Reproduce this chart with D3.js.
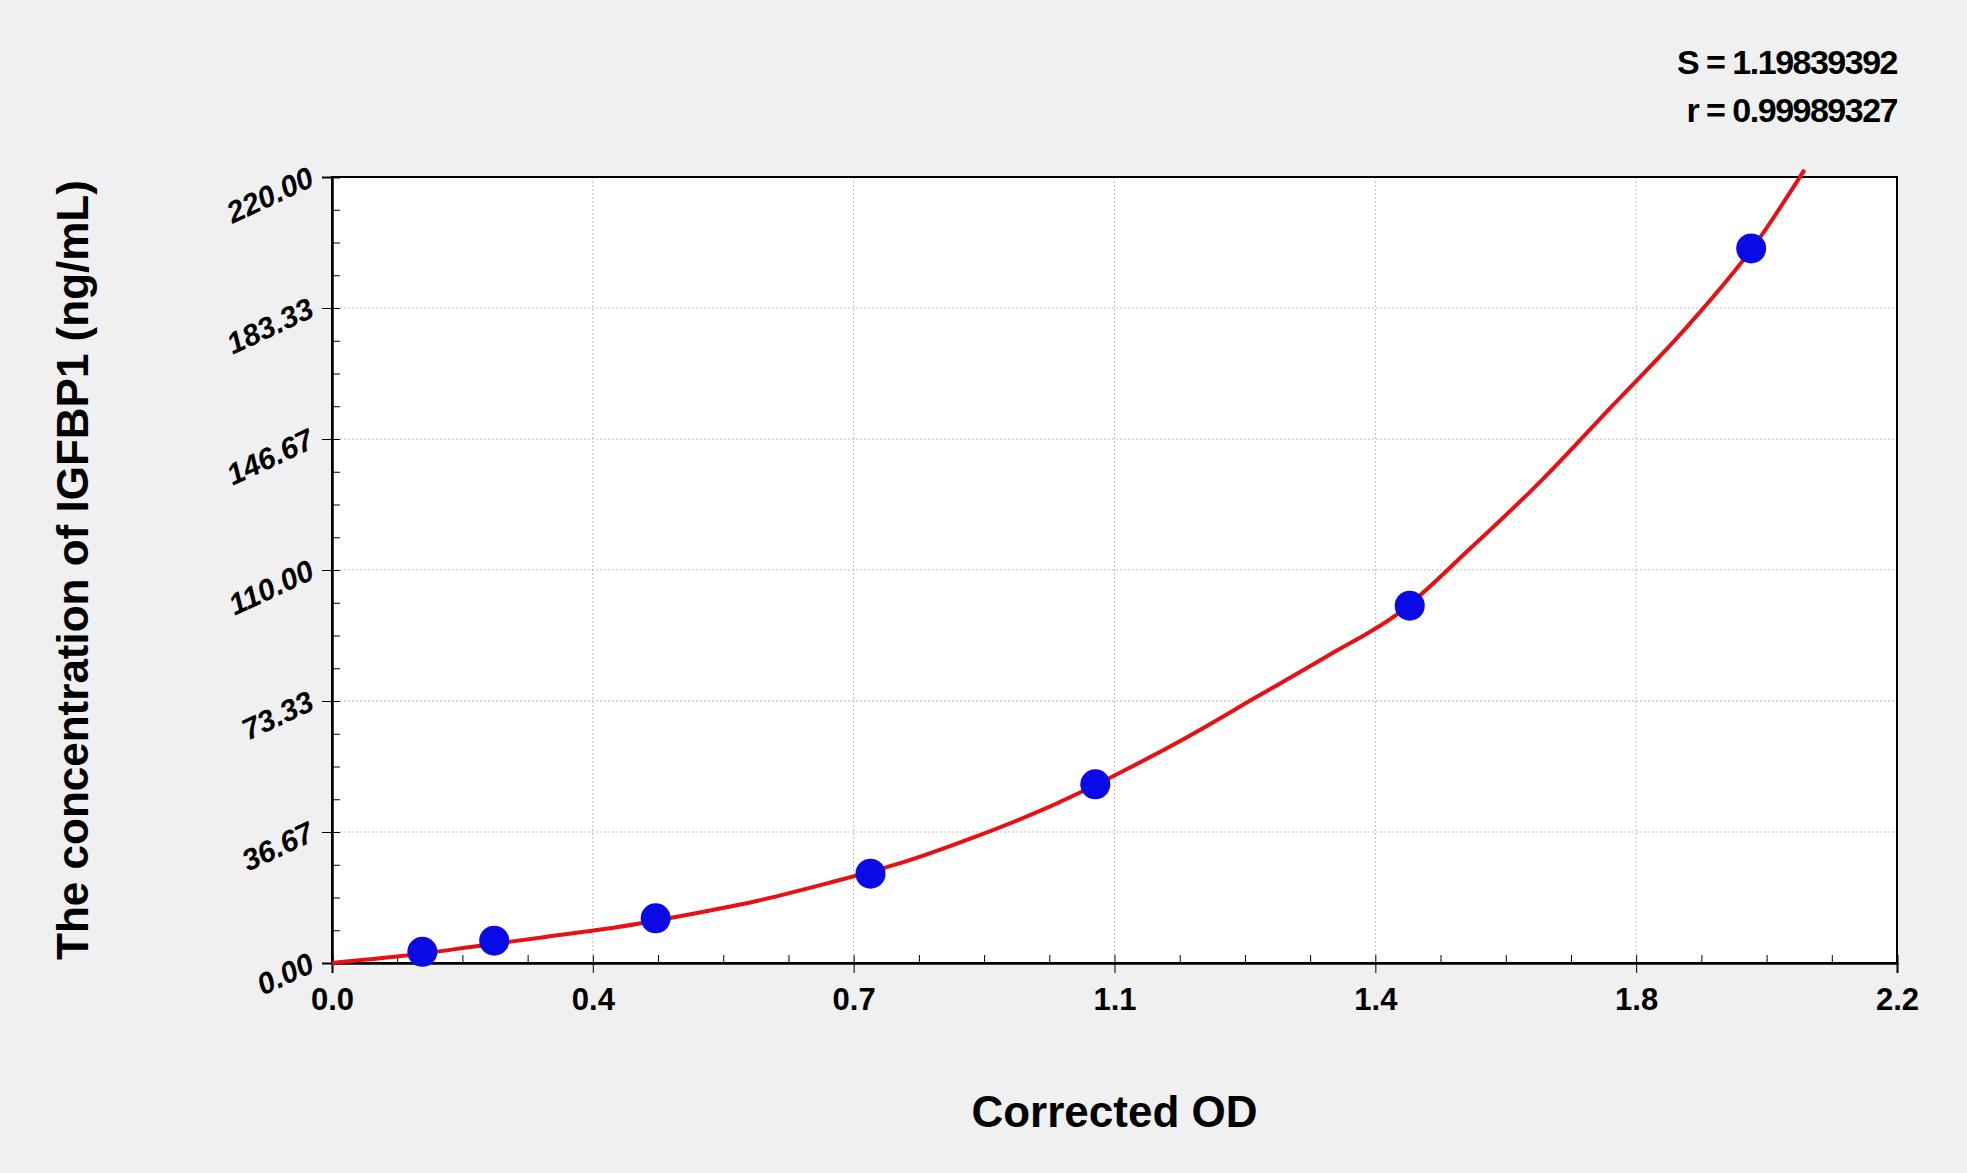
<!DOCTYPE html>
<html><head><meta charset="utf-8">
<script src="https://cdn.jsdelivr.net/npm/d3@7"></script>
<style>body{margin:0;background:#f0f0f0}svg{display:block;font-family:"Liberation Sans",Arial,sans-serif}</style>
</head><body><svg width="1967" height="1173"></svg>
<script>
// standards
var odValues = [0.127, 0.228, 0.455, 0.757, 1.073, 1.515, 1.995]
var concValues = [3.12, 6.25, 12.5, 25, 50, 100, 200]
// fitted curve as drawn
var curveX = [0, 0.1, 0.2, 0.3, 0.4, 0.5, 0.6, 0.7, 0.8, 0.9, 1.0, 1.1, 1.2, 1.3, 1.4, 1.5, 1.6, 1.7, 1.8, 1.9, 2.0, 2.07]
var curveY = [0, 2, 4.6, 7.3, 10, 13.5, 17.5, 22.5, 28, 35, 43, 52.5, 63, 74.5, 86, 98, 116, 135, 156, 177, 201, 222]
var xTickLabels = ["0.0", "0.4", "0.7", "1.1", "1.4", "1.8", "2.2"]
var yTickLabels = ["0.00", "36.67", "73.33", "110.00", "146.67", "183.33", "220.00"]
var stats = ["S = 1.19839392", "r = 0.99989327"]

var pLeft = 332, pRight = 1897, pTop = 177, pBottom = 963
var svg = d3.select("svg")
var x = d3.scaleLinear().domain([0, 2.2]).range([pLeft, pRight])
var y = d3.scaleLinear().domain([0, 220]).range([pBottom, pTop])
var xMajor = d3.range(7).map(i => i * 2.2 / 6)
var yMajor = d3.range(7).map(i => i * 220 / 6)
var xMinor = d3.range(25).map(i => i * 2.2 / 24)
var yMinor = d3.range(25).map(i => i * 220 / 24)

svg.append("rect").attr("x", pLeft).attr("y", pTop).attr("width", pRight - pLeft).attr("height", pBottom - pTop).attr("fill", "#fff")

svg.append("g").selectAll("line").data(xMajor.slice(1, -1)).enter().append("line")
  .attr("x1", d => x(d)).attr("x2", d => x(d)).attr("y1", pTop).attr("y2", pBottom)
  .attr("stroke", "#bbb").attr("stroke-dasharray", "2,2")
svg.append("g").selectAll("line").data(yMajor.slice(1, -1)).enter().append("line")
  .attr("y1", d => y(d)).attr("y2", d => y(d)).attr("x1", pLeft).attr("x2", pRight)
  .attr("stroke", "#bbb").attr("stroke-dasharray", "2,2")

svg.append("g").attr("transform", "translate(0," + pBottom + ")")
  .call(d3.axisBottom(x).tickValues(xMinor).tickSize(-8).tickFormat(""))
svg.append("g").attr("transform", "translate(0," + pBottom + ")")
  .call(d3.axisBottom(x).tickValues(xMajor).tickSize(10).tickFormat((d, i) => xTickLabels[i]))
  .call(g => g.selectAll("text").attr("dy", "1.1em").style("font-size", "31px").style("font-weight", "bold"))
svg.append("g").attr("transform", "translate(" + pLeft + ",0)")
  .call(d3.axisLeft(y).tickValues(yMinor).tickSize(-8).tickFormat(""))
svg.append("g").attr("transform", "translate(" + pLeft + ",0)")
  .call(d3.axisLeft(y).tickValues(yMajor).tickSize(10).tickFormat(""))
svg.selectAll(".domain").attr("stroke-width", 2)
svg.append("rect").attr("x", pLeft).attr("y", pTop).attr("width", pRight - pLeft).attr("height", pBottom - pTop)
  .attr("fill", "none").attr("stroke", "#000").attr("stroke-width", 2)

svg.append("g").selectAll("text").data(yMajor).enter().append("text")
  .attr("transform", d => "translate(" + (pLeft - 16) + "," + (y(d) + 8) + ") rotate(-25)")
  .attr("text-anchor", "end").style("font-size", "30px").style("font-weight", "bold").style("font-style", "italic")
  .text((d, i) => yTickLabels[i])

var line = d3.line().x(d => x(d[0])).y(d => y(d[1])).curve(d3.curveMonotoneX)
svg.append("path").datum(d3.zip(curveX, curveY)).attr("d", line)
  .attr("fill", "none").attr("stroke", "#e81010").attr("stroke-width", 4)

svg.append("g").selectAll("circle").data(d3.zip(odValues, concValues)).enter().append("circle")
  .attr("cx", d => x(d[0])).attr("cy", d => y(d[1])).attr("r", 15).attr("fill", "#0a0ae6")

svg.append("g").selectAll("text").data(stats).enter().append("text")
  .attr("x", pRight).attr("y", (d, i) => 74 + i * 48).attr("text-anchor", "end")
  .style("font-size", "34px").style("font-weight", "bold").style("letter-spacing", "-1.5px").text(d => d)

svg.append("text").attr("x", (pLeft + pRight) / 2).attr("y", 1127).attr("text-anchor", "middle")
  .style("font-size", "44px").style("font-weight", "bold").text("Corrected OD")
svg.append("text").attr("transform", "translate(88," + ((pTop + pBottom) / 2) + ") rotate(-90)")
  .attr("text-anchor", "middle").style("font-size", "44px").style("font-weight", "bold")
  .text("The concentration of IGFBP1 (ng/mL)")
</script></body></html>
